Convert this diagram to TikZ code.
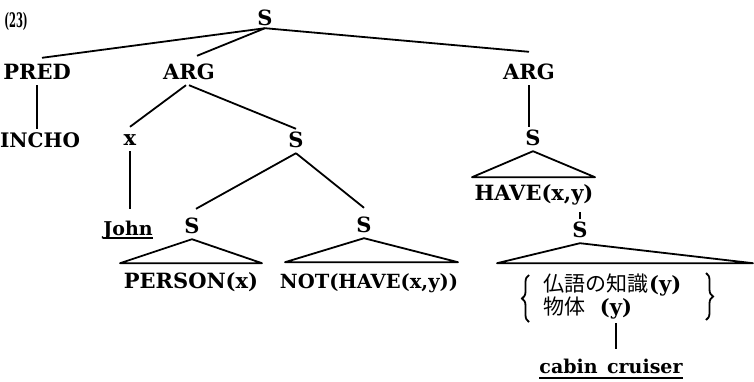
\documentclass[tikz,border=0pt]{standalone}
\usepackage{fontspec}
\usepackage{graphicx}
\usetikzlibrary{decorations.pathreplacing}
\setmainfont{DejaVu Serif}
\newfontfamily\cjk{Noto Sans CJK JP}
\begin{document}
\begin{tikzpicture}[x=1pt,y=-1pt,
  lbl/.style={anchor=base, inner xsep=0pt, inner ysep=4pt, text height=14pt, text depth=2pt, font=\fontsize{21}{24}\selectfont\bfseries},
  small/.style={font=\fontsize{19}{22}\selectfont\bfseries},
  edge/.style={line width=1.8pt},
  tri/.style={line width=1.8pt, line join=round},
  curly/.style={line width=1.8pt, decorate, decoration={brace, amplitude=7pt}},
  uline/.style={line width=1.6pt}]
\useasboundingbox (0,0) rectangle (754,381);
% labels
\node[lbl, font=\fontsize{20}{22}\selectfont\bfseries] (n23) at (16,27) {\scalebox{0.5}[1]{(23)}};
\node[lbl] (S0) at (265,25) {S};
\node[lbl] (PRED) at (37,79) {PRED};
\node[lbl] (ARG1) at (189,79) {ARG};
\node[lbl] (ARG2) at (529,79) {ARG};
\node[lbl, font=\fontsize{20}{24}\selectfont\bfseries] (INCHO) at (40,147) {INCHO};
\node[lbl] (X) at (130,145) {x};
\node[lbl] (S1) at (296,147) {S};
\node[lbl, small] (John) at (128,235) {John};
\node[lbl] (S2) at (192,233) {S};
\node[lbl] (S3) at (364,232) {S};
\node[lbl] (PERSON) at (191,288) {PERSON(x)};
\node[lbl, font=\fontsize{19.5}{22}\selectfont\bfseries] (NOT) at (369,288) {NOT(HAVE(x,y))};
\node[lbl] (S4) at (533,145) {S};
\node[lbl] (HAVE) at (534,200) {HAVE(x,y)};
\node[lbl] (S5) at (580,237) {S};
\node[lbl, anchor=base west] (K1) at (543,291) {{\cjk\mdseries\fontsize{21}{22}\selectfont 仏語の知識}\hspace{1pt}(y)};
\node[lbl, anchor=base west] (K2) at (543,314) {{\cjk\mdseries\fontsize{21}{22}\selectfont 物体}};
\node[lbl] (Y2) at (616,314) {(y)};
\node[lbl, small] (CAB) at (611,373) {cabin\hspace{0.5em}cruiser};
% braces
\draw[curly] (529,322) -- (529,275);
\draw[curly] (706,273) -- (706,320);
% connectors
\draw[edge] ([yshift=3pt]S0.south) -- ([xshift=5pt,yshift=3pt]PRED.north);
\draw[edge] ([yshift=3pt]S0.south) -- ([xshift=8pt,yshift=5pt]ARG1.north);
\draw[edge] ([yshift=3pt]S0.south) -- ([yshift=9pt]ARG2.north);
\draw[edge] (PRED.south) -- (PRED.south |- INCHO.north);
\draw[edge] ([xshift=-3pt]ARG1.south) -- (X.north);
\draw[edge] (ARG1.south) -- (S1.north);
\draw[edge] (ARG2.south) -- (ARG2.south |- S4.north);
\draw[edge, shorten >=8pt] (X.south) -- (X.south |- John.north);
\draw[edge] (S1.south) -- ([xshift=4pt,yshift=6pt]S2.north);
\draw[edge] (S1.south) -- ([yshift=6pt]S3.north);
\draw[line width=1.3pt, shorten <=6pt] (S5.north |- HAVE.south) -- (S5.north);
\draw[edge, shorten <=3pt, shorten >=6pt] (Y2.south) -- (Y2.south |- CAB.north);
% triangles
\draw[tri] (S2.south) -- ++(-72,24) -- ++(142,0) -- cycle;
\draw[tri] (S3.south) -- ++(-79,24) -- ++(173,0) -- cycle;
\draw[tri] (S4.south) -- ++(-61,26) -- ++(123,0) -- cycle;
\draw[tri] (S5.south) -- ++(-83,20) -- ++(256,0) -- cycle;
% underlines
\draw[uline] ([yshift=-3pt]John.base west) -- ([yshift=-3pt]John.base east);
\draw[uline] ([yshift=-5pt]CAB.base west) -- ([yshift=-5pt]CAB.base east);
\end{tikzpicture}
\end{document}
